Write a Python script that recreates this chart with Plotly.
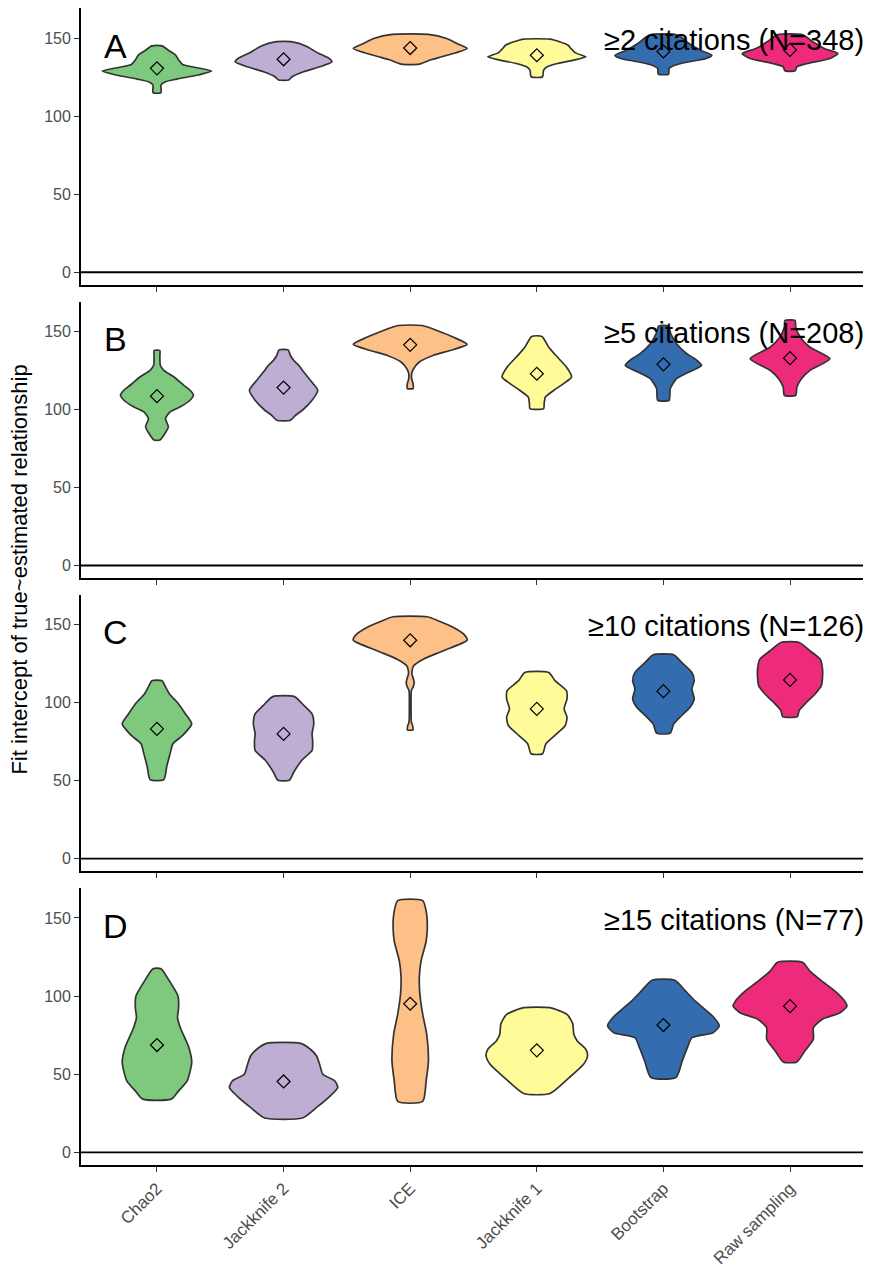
import plotly.graph_objects as go

categories = ["Chao2", "Jackknife 2", "ICE", "Jackknife 1", "Bootstrap", "Raw sampling"]
colors = ["#7FC97F", "#BEAED4", "#FDC086", "#FFFB99", "#346CB0", "#EE2A7B"]
panel_letters = ["A", "B", "C", "D"]
panel_titles = ["\u22652 citations (N=348)", "\u22655 citations (N=208)",
                "\u226510 citations (N=126)", "\u226515 citations (N=77)"]

# mean intercepts (diamonds)
means_A = [130.7, 136.5, 143.7, 139.1, 141.5, 142.5]
means_B = [108.5, 114.0, 141.4, 122.9, 128.9, 132.9]
means_C = [83.2, 80.0, 140.0, 96.0, 107.4, 114.6]
means_D = [68.7, 45.4, 95.1, 65.3, 81.5, 93.6]

# violin density profiles: levels (intercept values) and relative widths (0-1)
levels_A = [
    [115.1, 120.0, 122.1, 123.8, 126.4, 128.9, 131.1, 133.2, 136.0, 139.1, 142.3, 145.1],
    [123.2, 125.3, 128.5, 131.7, 134.9, 137.0, 140.2, 142.3, 144.9, 147.7],
    [133.4, 136.0, 138.1, 140.7, 143.4, 146.6, 149.8, 152.5],
    [125.3, 129.6, 131.7, 133.8, 136.0, 138.1, 140.6, 143.4, 145.5, 147.7, 149.4],
    [127.0, 130.6, 132.7, 134.9, 137.0, 139.1, 142.3, 146.6, 150.9, 152.5],
    [129.1, 131.7, 133.8, 137.0, 140.2, 143.4, 147.7, 151.0, 152.5],
]
widths_A = [
    [0.07, 0.07, 0.15, 0.35, 0.72, 0.96, 0.70, 0.45, 0.38, 0.33, 0.20, 0.09],
    [0.09, 0.15, 0.35, 0.64, 0.85, 0.80, 0.62, 0.52, 0.40, 0.15],
    [0.16, 0.35, 0.55, 0.80, 1.00, 0.82, 0.64, 0.32],
    [0.10, 0.12, 0.18, 0.36, 0.65, 0.86, 0.68, 0.60, 0.55, 0.40, 0.23],
    [0.09, 0.10, 0.20, 0.45, 0.75, 0.85, 0.65, 0.45, 0.30, 0.20],
    [0.09, 0.12, 0.30, 0.70, 0.84, 0.60, 0.40, 0.28, 0.20],
]

levels_B = [
    [80.4, 84.6, 88.9, 94.2, 98.5, 101.7, 105.9, 109.1, 112.3, 115.5, 120.8, 125.1, 128.2, 133.6, 137.8],
    [93.1, 96.3, 99.5, 105.9, 112.3, 118.7, 125.1, 128.2, 131.4, 134.6, 138.2],
    [113.4, 116.6, 119.7, 122.9, 126.1, 130.4, 134.6, 137.8, 141.7, 146.3, 150.6, 153.8],
    [100.6, 104.0, 108.0, 112.3, 116.6, 120.8, 127.2, 133.6, 139.9, 146.8],
    [105.9, 113.4, 119.7, 124.0, 128.2, 132.5, 135.7, 142.1, 148.5, 153.5],
    [109.1, 114.4, 119.7, 125.1, 132.5, 139.9, 146.3, 152.7, 157.0],
]
widths_B = [
    [0.05, 0.14, 0.20, 0.15, 0.23, 0.41, 0.58, 0.64, 0.58, 0.47, 0.30, 0.12, 0.06, 0.05, 0.05],
    [0.12, 0.21, 0.33, 0.50, 0.60, 0.47, 0.33, 0.27, 0.18, 0.12, 0.08],
    [0.05, 0.05, 0.025, 0.025, 0.06, 0.16, 0.40, 0.70, 1.00, 0.76, 0.47, 0.21],
    [0.12, 0.13, 0.15, 0.30, 0.47, 0.61, 0.52, 0.36, 0.21, 0.09],
    [0.10, 0.12, 0.23, 0.45, 0.67, 0.55, 0.41, 0.23, 0.13, 0.08],
    [0.10, 0.12, 0.20, 0.35, 0.70, 0.35, 0.18, 0.10, 0.09],
]

levels_C = [
    [50.7, 58.8, 67.3, 73.7, 79.0, 86.4, 92.8, 99.2, 105.6, 110.9, 114.1],
    [50.3, 55.6, 63.1, 69.4, 75.8, 80.1, 86.4, 92.8, 98.1, 103.9],
    [82.6, 85.0, 87.0, 88.6, 98.0, 107.7, 110.0, 113.0, 116.0, 118.4, 121.0, 123.7, 127.9, 133.3, 140.1, 143.9, 148.2, 152.4, 155.1],
    [67.3, 73.7, 80.1, 85.4, 90.7, 96.0, 102.4, 107.7, 114.1, 119.4],
    [80.5, 86.4, 91.8, 97.1, 102.4, 108.8, 114.1, 119.4, 125.8, 130.7],
    [91.1, 95.0, 100.3, 105.6, 110.9, 116.2, 121.5, 127.9, 133.3, 138.6],
]
widths_C = [
    [0.12, 0.17, 0.23, 0.28, 0.45, 0.61, 0.50, 0.38, 0.22, 0.14, 0.09],
    [0.10, 0.18, 0.32, 0.50, 0.51, 0.50, 0.53, 0.50, 0.36, 0.19],
    [0.05, 0.045, 0.025, 0.018, 0.015, 0.02, 0.05, 0.07, 0.05, 0.03, 0.035, 0.06, 0.23, 0.58, 1.00, 0.94, 0.76, 0.50, 0.30],
    [0.10, 0.16, 0.35, 0.50, 0.53, 0.48, 0.53, 0.52, 0.32, 0.21],
    [0.12, 0.18, 0.32, 0.47, 0.54, 0.50, 0.54, 0.50, 0.32, 0.18],
    [0.13, 0.16, 0.29, 0.44, 0.55, 0.57, 0.57, 0.53, 0.35, 0.16],
]

levels_D = [
    [34.1, 39.4, 45.8, 57.5, 67.2, 79.8, 86.2, 92.5, 100.0, 109.6, 117.5],
    [22.0, 28.8, 36.2, 41.5, 45.7, 50.0, 55.3, 61.7, 66.0, 69.8],
    [32.6, 45.8, 58.5, 75.6, 88.3, 101.1, 111.7, 122.4, 135.1, 143.6, 152.1, 161.1],
    [37.7, 47.9, 56.4, 61.7, 66.0, 71.3, 75.6, 82.4, 88.3, 92.6],
    [47.9, 58.5, 67.0, 73.4, 76.6, 80.9, 86.2, 96.8, 103.2, 110.2],
    [57.9, 64.9, 72.4, 79.8, 85.1, 89.4, 93.6, 96.8, 103.2, 109.6, 116.0, 121.7],
]
widths_D = [
    [0.25, 0.38, 0.53, 0.61, 0.56, 0.41, 0.36, 0.38, 0.37, 0.22, 0.07],
    [0.33, 0.58, 0.82, 0.95, 0.90, 0.69, 0.64, 0.58, 0.47, 0.30],
    [0.22, 0.28, 0.32, 0.29, 0.22, 0.17, 0.16, 0.19, 0.28, 0.30, 0.29, 0.22],
    [0.23, 0.57, 0.82, 0.89, 0.86, 0.71, 0.65, 0.63, 0.53, 0.23],
    [0.22, 0.33, 0.42, 0.50, 0.87, 0.98, 0.89, 0.56, 0.39, 0.20],
    [0.12, 0.26, 0.41, 0.41, 0.56, 0.88, 1.00, 0.96, 0.79, 0.56, 0.35, 0.22],
]

all_levels = [levels_A, levels_B, levels_C, levels_D]
all_widths = [widths_A, widths_B, widths_C, widths_D]
all_means = [means_A, means_B, means_C, means_D]

VIOLIN_HALF = 0.45  # ggplot default width 0.9
Y_RANGE = [-8.05, 169.05]
X_RANGE = [-0.6, 5.6]

# layout geometry (figure pixels; the page body adds an 8px offset)
W, H = 863, 1260
ML, MR, MT, MB = 73, 5, 0, 98
ph = H - MT - MB
panel_px = [(0.5, 278), (295, 572.5), (589.5, 867), (884, 1162)]
domains = [[1 - (b - MT) / ph, 1 - (t - MT) / ph] for t, b in panel_px]

FONT = "Liberation Sans, Arial, Helvetica, sans-serif"

fig = go.Figure()

for p in range(4):
    xa = "x" if p == 0 else f"x{p+1}"
    ya = "y" if p == 0 else f"y{p+1}"
    for i, cat in enumerate(categories):
        lv = all_levels[p][i]
        wd = all_widths[p][i]
        xs = [i + w * VIOLIN_HALF for w in wd] + [i - w * VIOLIN_HALF for w in reversed(wd)]
        ys = list(lv) + list(reversed(lv))
        xs.append(xs[0])
        ys.append(ys[0])
        fig.add_trace(go.Scatter(
            x=xs, y=ys, mode="lines", fill="toself",
            fillcolor=colors[i],
            line=dict(color="#333333", width=1.7, shape="spline", smoothing=0.6),
            xaxis=xa, yaxis=ya, showlegend=False, hoverinfo="skip",
        ))
    fig.add_trace(go.Scatter(
        x=list(range(len(categories))), y=all_means[p], mode="markers",
        marker=dict(symbol="diamond-open", size=10, color="black",
                    line=dict(width=1.2, color="black")),
        xaxis=xa, yaxis=ya, showlegend=False,
    ))
    # reference line at zero
    fig.add_shape(type="line", xref=f"{xa} domain", yref=ya, x0=0, x1=1, y0=0, y1=0,
                  line=dict(color="black", width=1.8))
    fig.add_annotation(x=X_RANGE[1], y=149, xref=xa, yref=ya, text=panel_titles[p],
                       showarrow=False, xanchor="right", yanchor="middle",
                       font=dict(size=29, color="black", family=FONT))
    fig.add_annotation(x=-0.33, y=145, xref=xa, yref=ya, text=panel_letters[p],
                       showarrow=False, xanchor="center", yanchor="middle",
                       font=dict(size=34, color="black", family=FONT))

axis_common = dict(showline=True, linecolor="black", linewidth=1.8, showgrid=False,
                   zeroline=False, ticks="outside", ticklen=5, tickwidth=1.4,
                   tickcolor="#333333")

layout = dict(
    width=W, height=H,
    margin=dict(l=ML, r=MR, t=MT, b=MB),
    paper_bgcolor="white", plot_bgcolor="white",
    font=dict(family=FONT),
    showlegend=False,
)
for p in range(4):
    xkey = "xaxis" if p == 0 else f"xaxis{p+1}"
    ykey = "yaxis" if p == 0 else f"yaxis{p+1}"
    ya = "y" if p == 0 else f"y{p+1}"
    xa = "x" if p == 0 else f"x{p+1}"
    layout[xkey] = dict(axis_common, domain=[0, 1], range=X_RANGE, anchor=ya,
                        tickmode="array", tickvals=list(range(len(categories))),
                        ticktext=categories, showticklabels=(p == 3), tickangle=-45,
                        tickfont=dict(size=17, color="#4D4D4D", family=FONT))
    layout[ykey] = dict(axis_common, domain=domains[p], range=Y_RANGE, anchor=xa,
                        tickmode="array", tickvals=[0, 50, 100, 150],
                        tickfont=dict(size=16, color="#4D4D4D", family=FONT))

fig.update_layout(**layout)
fig.add_annotation(x=(12 - ML) / (W - ML - MR), y=1 - (564 - MT) / ph, xref="paper", yref="paper",
                   text="Fit intercept of true~estimated relationship", textangle=-90,
                   showarrow=False, xanchor="center", yanchor="middle",
                   font=dict(size=22, color="black", family=FONT))

fig.write_html("out.html")
